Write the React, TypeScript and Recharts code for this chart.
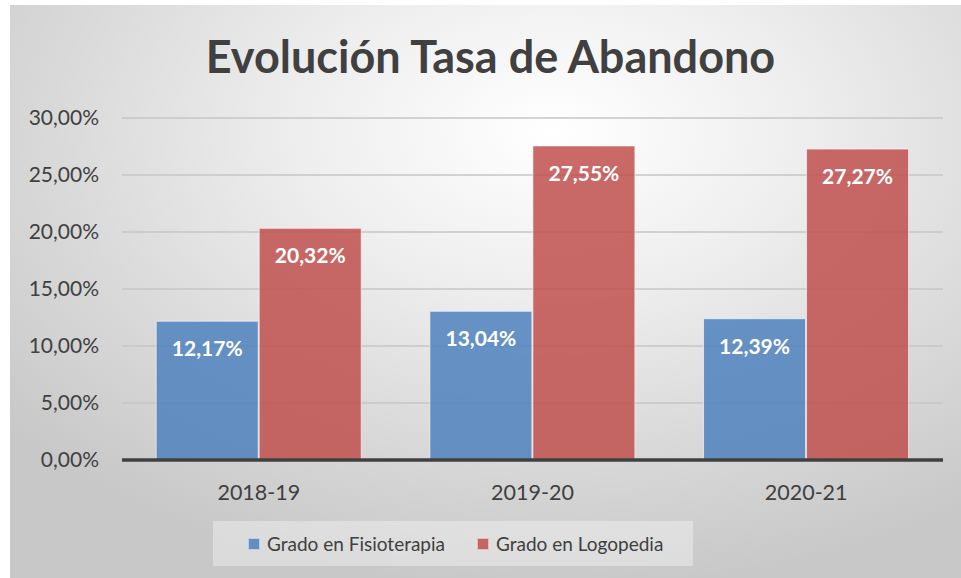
import { Bar, BarChart, CartesianGrid, LabelList, XAxis, YAxis } from "recharts";

const CATEGORIES = ["2018-19", "2019-20", "2020-21"];
const FISIOTERAPIA = [12.17, 13.04, 12.39];
const LOGOPEDIA = [20.32, 27.55, 27.27];
const Y_TICKS = [0, 5, 10, 15, 20, 25, 30];

const SERIES = [
  { key: "fisio", name: "Grado en Fisioterapia", color: "#4F81BD", values: FISIOTERAPIA },
  { key: "logo", name: "Grado en Logopedia", color: "#C0504D", values: LOGOPEDIA },
];

const data = CATEGORIES.map((cat, i) => {
  const row: Record<string, string | number> = { cat };
  for (const s of SERIES) row[s.key] = s.values[i];
  return row;
});

const FONT = "Lato, 'Open Sans', sans-serif";
const pct = (v: number) => v.toFixed(2).replace(".", ",") + "%";

export default function App() {
  return (
    <div
      style={{
        position: "fixed",
        left: 0,
        top: 0,
        width: 961,
        height: 578,
        background: "#ffffff",
        fontFamily: FONT,
      }}
    >
      <div
        style={{
          position: "absolute",
          left: 10,
          top: 5,
          width: 951,
          height: 573,
          background:
            "radial-gradient(ellipse 75% 80% at 57% 22%, #ffffff 0%, #eeeeee 35%, #d9d9d9 70%, #c8c8c8 100%)",
        }}
      >
        <div
          style={{
            position: "absolute",
            left: 0,
            top: 23,
            width: 951,
            textAlign: "center",
            fontSize: 45,
            fontWeight: 700,
            color: "#404040",
            lineHeight: "56px",
          }}
        >
          <span style={{ position: "relative", left: 5 }}>Evolución Tasa de Abandono</span>
        </div>
        <BarChart
          width={951}
          height={573}
          data={data}
          margin={{ top: 113, right: 18, left: 0, bottom: 118 - 40 }}
          barCategoryGap="12.5%"
          barGap={1}
        >
          <CartesianGrid vertical={false} stroke="#c6c6c6" strokeWidth={1.5} />
          <XAxis
            dataKey="cat"
            height={40}
            tickLine={false}
            tickSize={0}
            tickMargin={25}
            axisLine={{ stroke: "#404040", strokeWidth: 3.5 }}
            tick={{ fill: "#404040", fontSize: 21.5, fontFamily: FONT }}
          />
          <YAxis
            width={112}
            domain={[0, 30]}
            ticks={Y_TICKS}
            tickFormatter={pct}
            axisLine={false}
            tickLine={false}
            tickSize={0}
            tickMargin={23}
            tick={{ fill: "#404040", fontSize: 21, fontFamily: FONT }}
          />
          {SERIES.map((s) => (
            <Bar
              key={s.key}
              dataKey={s.key}
              name={s.name}
              fill={s.color}
              fillOpacity={0.85}
              stroke="#ffffff"
              strokeOpacity={0.6}
              strokeWidth={1}
              isAnimationActive={false}
            >
              <LabelList
                dataKey={s.key}
                position="insideTop"
                offset={20}
                formatter={(v: number) => pct(v)}
                fill="#ffffff"
                fontSize={21}
                fontWeight={700}
                fontFamily={FONT}
              />
            </Bar>
          ))}
        </BarChart>
        <div
          style={{
            position: "absolute",
            left: 203,
            top: 516,
            width: 480,
            height: 45,
            background: "rgba(255,255,255,0.35)",
            display: "flex",
            alignItems: "center",
            justifyContent: "flex-start",
            paddingLeft: 35,
            boxSizing: "border-box",
            gap: 32,
            fontSize: 19,
            color: "#404040",
          }}
        >
          {SERIES.map((s) => (
            <div key={s.key} style={{ display: "flex", alignItems: "center", gap: 7 }}>
              <span
                style={{
                  display: "inline-block",
                  width: 10,
                  height: 10,
                  background: s.color,
                  opacity: 0.85,
                  border: "1px solid rgba(255,255,255,0.6)",
                }}
              />
              <span>{s.name}</span>
            </div>
          ))}
        </div>
      </div>
    </div>
  );
}
